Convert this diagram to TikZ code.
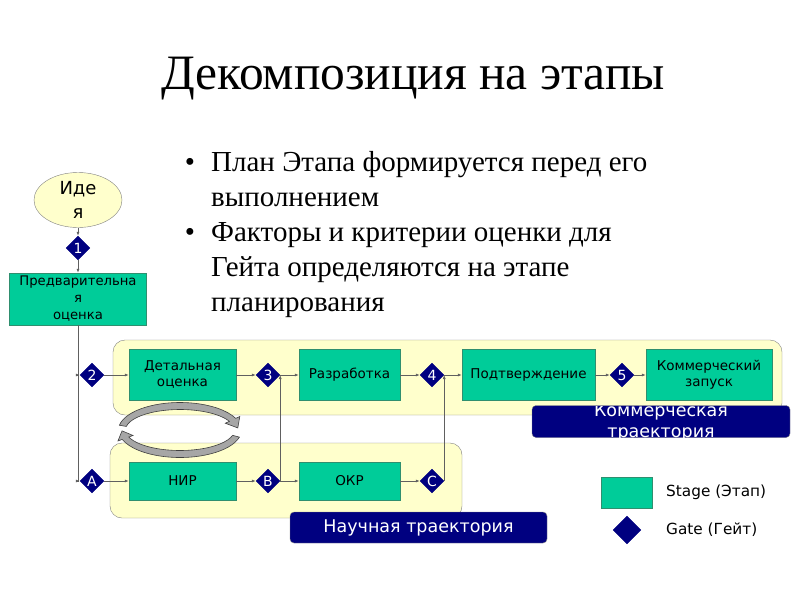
\documentclass[tikz,border=0pt]{standalone}
\usepackage{fontspec}
\setmainfont{Liberation Serif}
\newfontfamily\diagfont{DejaVu Sans}
\usetikzlibrary{shapes.geometric,arrows.meta,calc}

\definecolor{stagegreen}{HTML}{00CC99}
\definecolor{stageedge}{HTML}{2F8F6F}
\definecolor{gatenavy}{HTML}{000080}
\definecolor{trackyellow}{HTML}{FFFFCC}
\definecolor{wiregray}{HTML}{606060}
\definecolor{cycgray}{HTML}{A6A6A6}

\tikzset{
  stage/.style={draw=stageedge, fill=stagegreen, align=center, inner sep=1pt,
    minimum height=51, font=\diagfont\fontsize{13.5}{16}\selectfont},
  gate/.style={diamond, fill=gatenavy, draw=gatenavy, text=white, inner sep=0pt,
    minimum size=24, font=\diagfont\fontsize{14}{14}\selectfont},
  track/.style={draw=gray, fill=trackyellow, rounded corners=12},
  tracklabel/.style={fill=gatenavy, draw=gray, rounded corners=4, text=white,
    font=\diagfont\fontsize{17.5}{21}\selectfont},
  wire/.style={draw=wiregray, line width=0.7pt, -{Latex[length=4pt,width=3pt]}},
  cycarrow/.style={fill=cycgray, draw=black!75, line width=0.6pt},
  legtext/.style={anchor=west, inner sep=0pt, font=\diagfont\fontsize{15.3}{18}\selectfont},
  bullet/.style={inner sep=0pt, font=\fontsize{29}{35}\selectfont}
}

\begin{document}
\begin{tikzpicture}[x=1pt,y=-1pt]
\useasboundingbox (0,0) rectangle (800,600);

% title and text
\node[anchor=base, font=\fontsize{49.5}{54}\selectfont] (title) at (413,89) {Декомпозиция на этапы};
\node[bullet, anchor=base] (dot1) at (190,171.5) {•};
\node[bullet, anchor=base west, align=left] (plan) at (211,206.5) {План Этапа формируется перед его\\выполнением};
\node[bullet, anchor=base] (dot2) at (190,241.5) {•};
\node[bullet, anchor=base west, align=left] (factors) at (211,311.5) {Факторы и критерии оценки для\\Гейта определяются на этапе\\планирования};

% trajectories
\draw[track] (113,340) rectangle (782,415);
\draw[track] (110,443) rectangle (462,518);

% cycle between the rows
\coordinate (cyc) at (180,430);
\filldraw[cycarrow] ($(cyc)+(190:61.5 and 27.5)$) arc[start angle=190, end angle=335, x radius=61.5, y radius=27.5]
  -- ($(cyc)+(335:66 and 32)$) -- ($(cyc)+(355:58 and 24)$) -- ($(cyc)+(335:50 and 16)$)
  -- ($(cyc)+(335:54.5 and 20.5)$) arc[start angle=335, end angle=190, x radius=54.5, y radius=20.5] -- cycle;
\filldraw[cycarrow] ($(cyc)+(15:61.5 and 27.5)$) arc[start angle=15, end angle=160, x radius=61.5, y radius=27.5]
  -- ($(cyc)+(160:66 and 32)$) -- ($(cyc)+(178:58 and 24)$) -- ($(cyc)+(160:50 and 16)$)
  -- ($(cyc)+(160:54.5 and 20.5)$) arc[start angle=160, end angle=15, x radius=54.5, y radius=20.5] -- cycle;

% idea and first gate
\node[ellipse, draw=gray, fill=trackyellow, minimum width=88, minimum height=55, inner sep=0pt,
  align=center, font=\diagfont\fontsize{18}{24}\selectfont] (idea) at (78,200) {Иде\\я};
\node[gate] (g1) at (78,248) {1};
\node[stage, minimum width=137, minimum height=52, font=\diagfont\fontsize{13.2}{17}\selectfont] (pre) at (78,299) {Предварительна\\я\\оценка};

% commercial row
\node[gate] (g2) at (92,375) {2};
\node[stage, minimum width=107] (det) at (182.5,375) {Детальная\\оценка};
\node[gate] (g3) at (268,375) {3};
\node[stage, minimum width=101] (dev) at (349.5,375) {Разработка};
\node[gate] (g4) at (432,375) {4};
\node[stage, minimum width=133] (conf) at (528.5,375) {Подтверждение};
\node[gate] (g5) at (622,375) {5};
\node[stage, minimum width=126] (launch) at (709,375) {Коммерческий\\запуск};

% science row
\node[gate] (gA) at (92,481) {A};
\node[stage, minimum width=107, minimum height=38] (nir) at (182.5,481) {НИР};
\node[gate] (gB) at (268,481) {B};
\node[stage, minimum width=101, minimum height=38] (okr) at (349.5,481) {ОКР};
\node[gate] (gC) at (432,481) {C};

% connectors
\draw[wire] (idea) -- (g1);
\draw[wire] (g1) -- (pre);
\draw[wire] (pre.south) |- (g2.west);
\draw[wire] (pre.south) |- (gA.west);
\draw[wire] (g2) -- (det);
\draw[wire] (det) -- (g3);
\draw[wire] (g3) -- (dev);
\draw[wire] (dev) -- (g4);
\draw[wire] (g4) -- (conf);
\draw[wire] (conf) -- (g5);
\draw[wire] (g5) -- (launch);
\draw[wire] (gA) -- (nir);
\draw[wire] (nir) -- (gB);
\draw[wire] (gB) -- (okr);
\draw[wire] (okr) -- (gC);
\draw[wire] (gB.east) -- (g3.east);
\draw[wire] (gC.east) -- (g4.east);

% track labels
\node[tracklabel, minimum width=258, minimum height=32] (comlbl) at (661,421.5) {};
\begin{scope}
  \clip[rounded corners=4] (comlbl.south west) rectangle (comlbl.north east);
  \node[text=white, align=center, font=\diagfont\fontsize{17.5}{21}\selectfont] (comtxt) at (661,422) {Коммерческая\\траектория};
\end{scope}
\node[tracklabel, minimum width=257, minimum height=31] (scilbl) at (418.5,527.5) {Научная траектория};

% legend
\node[stage, minimum width=51, minimum height=31] (legstage) at (626.5,492.5) {};
\node[legtext] (legstagetxt) at (666,492) {Stage (Этап)};
\node[gate, minimum size=28] (leggate) at (627,530) {};
\node[legtext] (leggatetxt) at (666,530) {Gate (Гейт)};
\end{tikzpicture}
\end{document}
